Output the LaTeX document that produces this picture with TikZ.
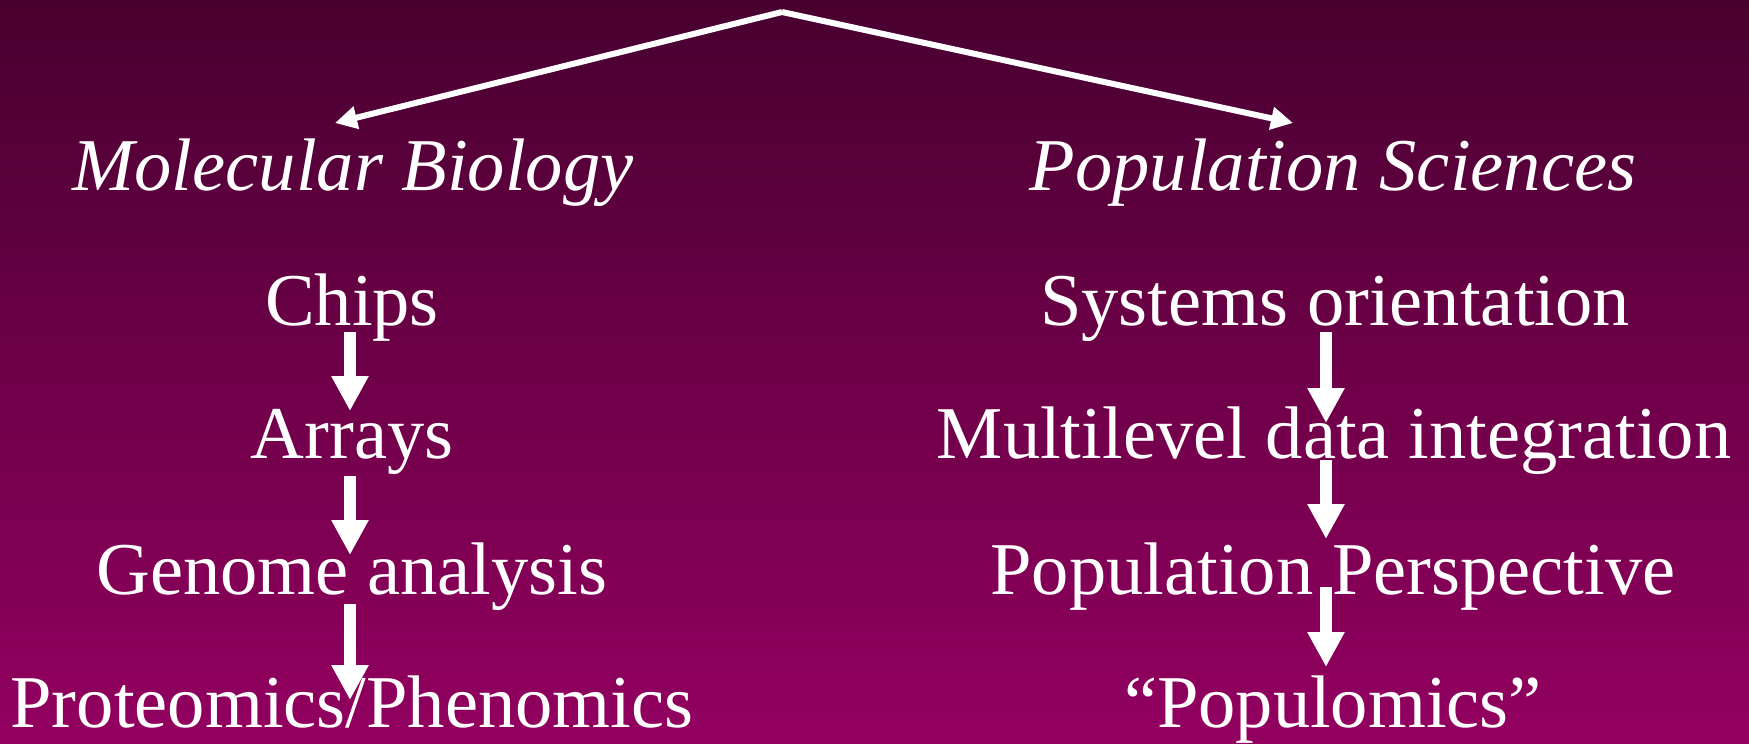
\documentclass[tikz,border=0pt]{standalone}
\usepackage{fontspec}
\setmainfont{Liberation Serif}
\usetikzlibrary{arrows.meta}
\definecolor{bgtop}{RGB}{72,0,48}
\definecolor{bgbot}{RGB}{147,0,96}
\tikzset{
  lbl/.style={anchor=base, inner sep=0pt, text=white, font=\fontsize{74.5}{80}\selectfont},
  ilbl/.style={lbl, font=\fontsize{74.5}{80}\selectfont\itshape},
  varrow/.style={draw=white, line width=12pt, -{Triangle[length=35pt,width=35pt]}},
  tarrow/.style={draw=white, line width=6pt, -{Triangle[length=22pt,width=22pt]}}
}
\begin{document}
\begin{tikzpicture}[x=1pt,y=-1pt]
\useasboundingbox (0,0) rectangle (1749,744);
\fill[top color=bgtop, bottom color=bgbot] (0,0) rectangle (1749,744);

\coordinate (apex) at (782,12);

\node[ilbl] (mb) at (353,190) {Molecular Biology};
\node[ilbl] (ps) at (1333,190) {Population Sciences};

\node[lbl] (chips) at (352,325) {Chips};
\node[lbl] (arrays) at (352,458) {Arrays};
\node[lbl] (genome) at (352,594) {Genome analysis};
\node[lbl] (prot) at (352,727) {Proteomics/Phenomics};

\node[lbl] (sys) at (1335,325) {Systems orientation};
\node[lbl] (multi) at (1334,458) {Multilevel data integration};
\node[lbl] (popp) at (1333,594) {Population Perspective};
\node[lbl] (popu) at (1333,727) {“Populomics”};

\draw[tarrow] (apex) -- ([shift={(-18,-67)}]mb.base);
\draw[tarrow] (apex) -- ([shift={(-40,-67)}]ps.base);

\draw[varrow] ([shift={(-2,7)}]chips.base) -- ([shift={(-2,-47)}]arrays.base);
\draw[varrow] ([shift={(-2,18)}]arrays.base) -- ([shift={(-2,-39)}]genome.base);
\draw[varrow] ([shift={(-2,10)}]genome.base) -- ([shift={(-2,-27)}]prot.base);

\draw[varrow] ([shift={(-9,7)}]sys.base) -- ([shift={(-8,-35)}]multi.base);
\draw[varrow] ([shift={(-8,2)}]multi.base) -- ([shift={(-7,-55)}]popp.base);
\draw[varrow] ([shift={(-7,-7)}]popp.base) -- ([shift={(-7,-60)}]popu.base);
\end{tikzpicture}
\end{document}
